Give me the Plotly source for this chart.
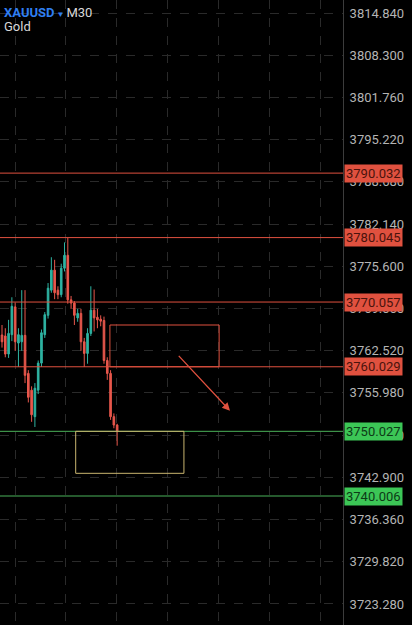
import plotly.graph_objects as go

# ---- data ----
opens  = [3764.95, 3764.8, 3762.0, 3765.0, 3769.3, 3763.7, 3763.9, 3764.9, 3759.0, 3756.4,
          3752.3, 3756.4, 3760.6, 3765.0, 3768.0, 3771.9, 3775.0, 3771.9, 3771.2, 3775.3,
          3777.3, 3770.4, 3769.9, 3767.6, 3768.3, 3763.9, 3762.1, 3765.2, 3768.8, 3767.7,
          3767.4, 3767.2, 3761.0, 3759.0, 3752.3, 3751.0]
highs  = [3766.5, 3766.0, 3767.3, 3770.8, 3770.0, 3766.0, 3771.9, 3771.9, 3759.5, 3757.0,
          3757.5, 3761.0, 3765.8, 3768.5, 3773.0, 3777.0, 3776.6, 3772.5, 3776.0, 3779.3,
          3780.0, 3771.0, 3770.2, 3769.0, 3769.0, 3764.5, 3766.0, 3772.5, 3772.0, 3769.0,
          3768.0, 3767.8, 3761.5, 3759.5, 3752.8, 3751.2]
lows   = [3763.0, 3761.5, 3761.4, 3764.0, 3762.5, 3760.0, 3762.5, 3757.5, 3754.5, 3751.5,
          3750.7, 3755.8, 3760.0, 3764.5, 3767.5, 3771.5, 3770.5, 3770.5, 3770.8, 3774.8,
          3769.8, 3769.0, 3766.5, 3767.0, 3762.5, 3760.0, 3760.5, 3764.8, 3765.5, 3766.0,
          3766.3, 3760.5, 3758.0, 3751.8, 3750.5, 3747.8]
closes = [3763.9, 3762.0, 3765.2, 3769.4, 3763.9, 3765.0, 3764.9, 3758.7, 3755.3, 3752.6,
          3756.7, 3760.6, 3765.3, 3768.1, 3772.2, 3775.0, 3771.5, 3771.2, 3775.3, 3777.3,
          3770.4, 3769.9, 3768.0, 3768.3, 3763.9, 3762.1, 3765.2, 3768.8, 3767.6, 3767.3,
          3767.1, 3761.0, 3759.0, 3752.3, 3751.0, 3750.0]
idx = list(range(len(opens)))

red_levels = [3790.032, 3780.045, 3770.057, 3760.029]
green_levels = [3750.027, 3740.006]

sell_zone = dict(x0=32.8, x1=66.0, y0=3760.029, y1=3766.5)
buy_zone = dict(x0=22.4, x1=55.3, y0=3743.52, y1=3750.027)
arrow_start = (53.3, 3761.95)
arrow_end = (69.3, 3753.22)

y_top, y_bottom = 3816.854, 3720.02
tick0, dtick = 3814.84, 6.54

RED = "#e0513f"
GREEN = "#3cc656"
UP = "#2eb3a2"
DOWN = "#e8574c"

fig = go.Figure()
fig.add_trace(go.Candlestick(
    x=idx, open=opens, high=highs, low=lows, close=closes,
    increasing=dict(line=dict(color=UP, width=1), fillcolor=UP),
    decreasing=dict(line=dict(color=DOWN, width=1), fillcolor=DOWN),
    whiskerwidth=0, showlegend=False, hoverinfo="skip",
))

shapes = []
for lv in red_levels:
    shapes.append(dict(type="line", xref="paper", x0=0, x1=1, yref="y", y0=lv, y1=lv,
                       line=dict(color=RED, width=1)))
for lv in green_levels:
    shapes.append(dict(type="line", xref="paper", x0=0, x1=1, yref="y", y0=lv, y1=lv,
                       line=dict(color="#4bb25a", width=1)))
shapes.append(dict(type="rect", xref="x", yref="y", **sell_zone,
                   line=dict(color=RED, width=1), fillcolor="rgba(0,0,0,0)"))
shapes.append(dict(type="rect", xref="x", yref="y", **buy_zone,
                   line=dict(color="#c9b56f", width=1), fillcolor="rgba(0,0,0,0)"))

annotations = []
for lv in red_levels:
    annotations.append(dict(xref="paper", x=1, xanchor="left", xshift=1, yref="y", y=lv,
                            text=f"{lv:.3f}", showarrow=False, bgcolor=RED, borderpad=1,
                            font=dict(family="Roboto", size=13, color="#4a130c")))
for lv in green_levels:
    annotations.append(dict(xref="paper", x=1, xanchor="left", xshift=1, yref="y", y=lv,
                            text=f"{lv:.3f}", showarrow=False, bgcolor=GREEN, borderpad=1,
                            font=dict(family="Roboto", size=13, color="#0d3a16")))
annotations.append(dict(xref="x", yref="y", x=arrow_end[0], y=arrow_end[1],
                        ax=arrow_start[0], ay=arrow_start[1], axref="x", ayref="y",
                        showarrow=True, arrowhead=2, arrowsize=1.2, arrowwidth=1.3,
                        arrowcolor=RED, text=""))
annotations.append(dict(xref="paper", yref="paper", x=0, y=1, xanchor="left", yanchor="top",
                        xshift=2, yshift=-3, showarrow=False, align="left",
                        text="<b><span style='color:#2f7ff2'>XAUUSD</span></b>"
                             "<span style='color:#2f7ff2;font-size:8px'> ▼ </span>"
                             "<span style='color:#d8d8d8'>M30</span>",
                        font=dict(family="Roboto", size=13, color="#d8d8d8")))
annotations.append(dict(xref="paper", yref="paper", x=0, y=1, xanchor="left", yanchor="top",
                        xshift=2, yshift=-17, showarrow=False, text="Gold",
                        font=dict(family="Roboto", size=13, color="#d8d8d8")))

fig.update_layout(
    width=412, height=625,
    margin=dict(l=0, r=69, t=0, b=0),
    paper_bgcolor="#000000", plot_bgcolor="#000000",
    shapes=shapes, annotations=annotations,
    xaxis=dict(range=[-0.608, 103.65], rangeslider=dict(visible=False),
               showticklabels=False, ticks="", zeroline=False, showline=False,
               showgrid=True, gridcolor="#2a2a2a", griddash="dash", gridwidth=1,
               tick0=3.95, dtick=15.5),
    yaxis=dict(range=[y_bottom, y_top], side="right", tick0=tick0, dtick=dtick,
               tickformat=".3f", showgrid=True, gridcolor="#2a2a2a", griddash="dash",
               gridwidth=1, zeroline=False, showline=True, linecolor="#3c3c3c",
               linewidth=1, ticks="", ticklabelstandoff=3,
               tickfont=dict(family="Roboto", size=13, color="#b4b4b4")),
)

fig.write_html("out.html", config={"displayModeBar": False},
               post_script="document.body.style.margin='0';document.body.style.background='#000';"
                           "document.body.style.overflow='hidden';")
